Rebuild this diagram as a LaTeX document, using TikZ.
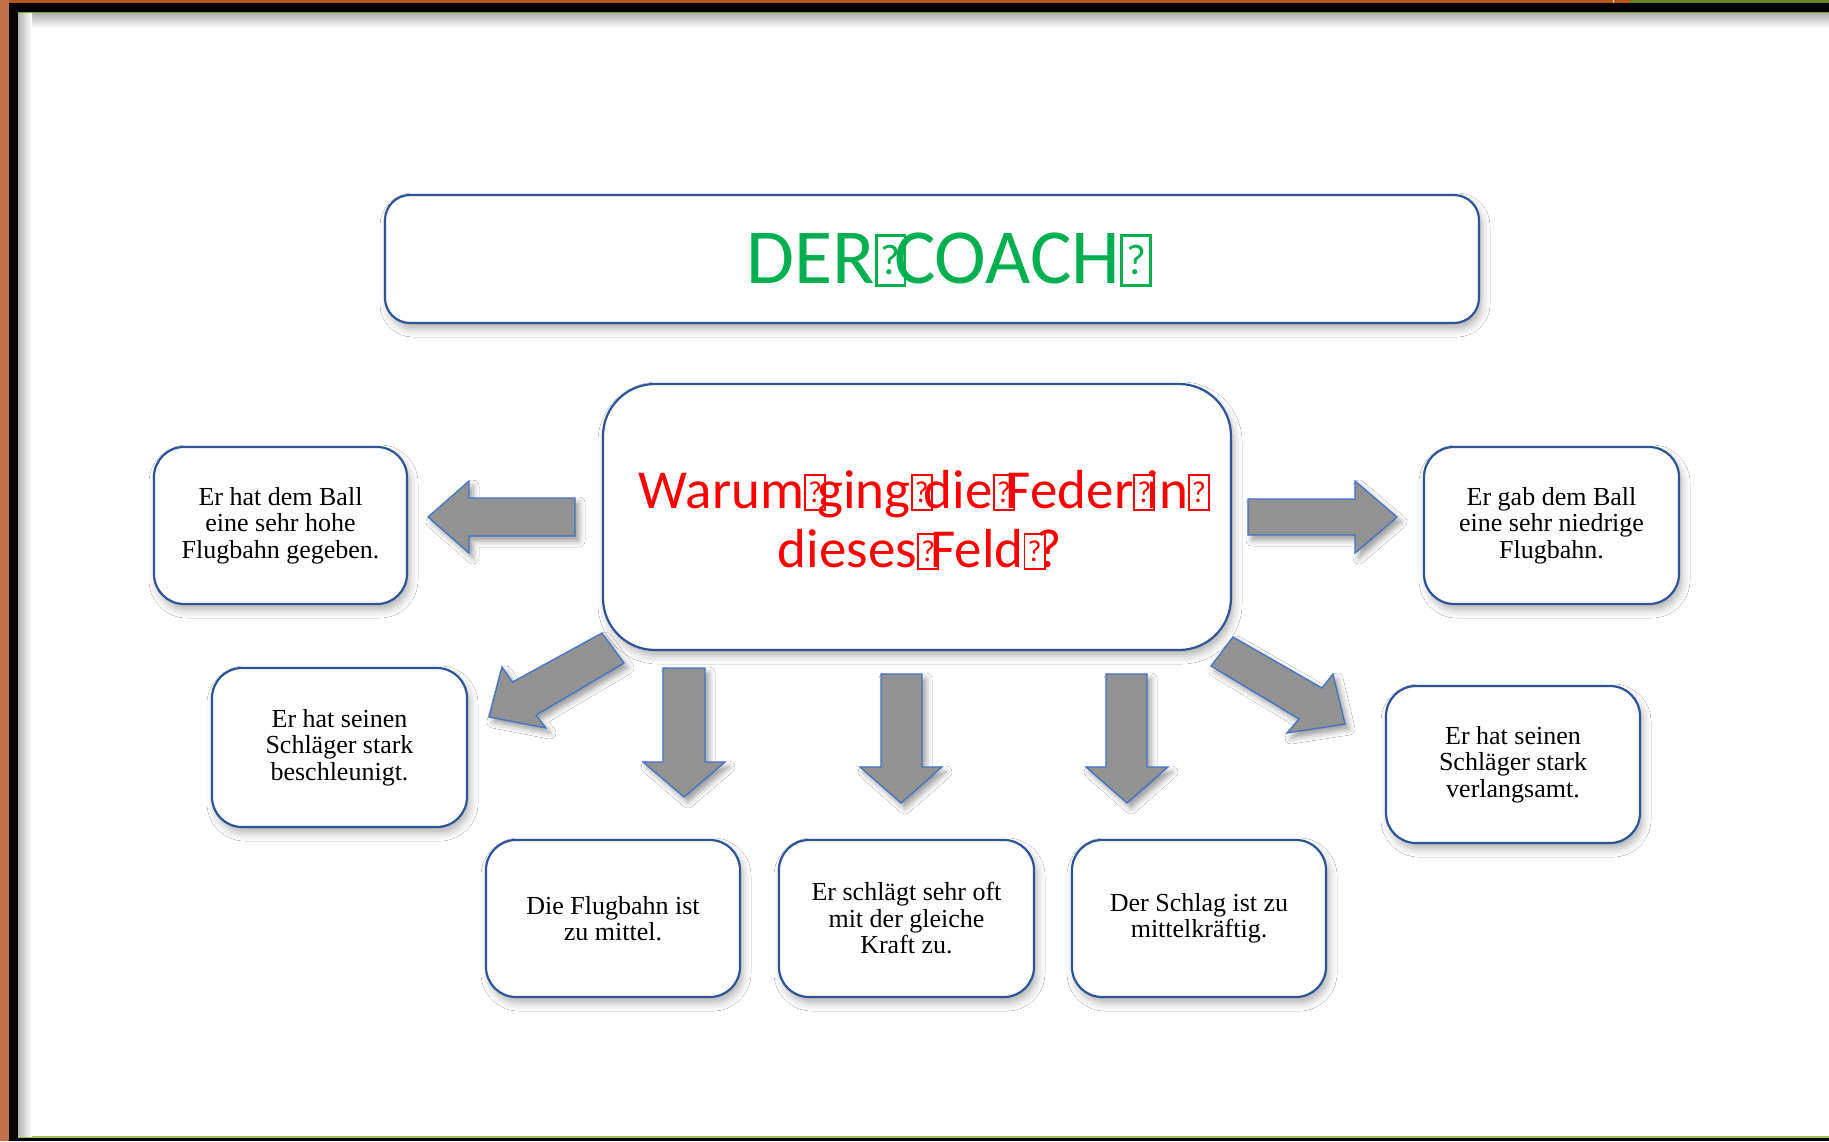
\documentclass[tikz,border=0pt]{standalone}
\usepackage{fontspec}
\usepackage{graphicx}
\setmainfont{Liberation Serif}
\newfontfamily\calfont{Carlito}
\usetikzlibrary{shadows.blur}
\definecolor{frameorange}{HTML}{B5561B}
\definecolor{frameorangelight}{HTML}{C2704A}
\definecolor{frameolive}{HTML}{6A7F24}
\definecolor{framegreen}{HTML}{76A22B}
\definecolor{framegreenlight}{HTML}{9CC14F}
\definecolor{boxblue}{HTML}{2F5496}
\definecolor{arrowblue}{HTML}{4472C4}
\definecolor{arrowgray}{HTML}{929292}
\definecolor{titlegreen}{HTML}{00B050}
\definecolor{qred}{HTML}{FF0000}
\newcommand{\tofu}{\makebox[0.24em][l]{\raisebox{-0.01em}{\setlength{\fboxsep}{0pt}\setlength{\fboxrule}{0.035em}\fbox{\parbox[b][0.6em][c]{0.33em}{\centering\scalebox{0.55}{?}}}}}}
\tikzset{
  infobox/.style={draw=boxblue, line width=2.2pt, fill=white, rounded corners=30pt,
    align=center, inner sep=0pt, font=\fontsize{26}{26.5}\selectfont,
    blur shadow={shadow xshift=3pt, shadow yshift=-6pt, shadow opacity=30, shadow blur radius=8pt}},
  bigbox/.style={infobox},
  blockarrow/.style={draw=arrowblue, line width=1.3pt, fill=arrowgray, line join=miter,
    blur shadow={shadow xshift=4pt, shadow yshift=-5pt, shadow opacity=40, shadow blur radius=6pt}},
}
\begin{document}
\begin{tikzpicture}[x=1pt,y=-1pt]
\useasboundingbox (0,0) rectangle (1829,1141);
% frame
\fill[frameorange] (0,0) rectangle (1829,1141);
\fill[frameorangelight] (0,0) rectangle (9,1141);
\fill[frameolive] (1630,0) rectangle (1829,3);
\draw[white!80!frameorange, line width=1pt] (1613,0) -- (1613,3);
\fill[black] (9,3) rectangle (1829,1141);
\fill[white] (18,13) rectangle (1829,1137);
\fill[framegreen] (18,12) rectangle (1829,13.5);
\fill[framegreenlight] (18,1136) rectangle (1829,1137.5);
\shade[top color=gray!60, bottom color=white] (18,13.5) rectangle (1829,28);
\shade[left color=gray!60, right color=white] (18,13.5) rectangle (32,1136);

% title
\node[bigbox, rounded corners=25pt, minimum width=1094pt, minimum height=128pt] (titlebox) at (932,259) {};
\node[font=\calfont\fontsize{78}{82}\selectfont, text=titlegreen, anchor=base, inner sep=0pt] (titletext) at (943,283) {DER\tofu COACH\tofu};

% question
\node[bigbox, rounded corners=52pt, minimum width=628pt, minimum height=266pt] (qbox) at (917,517) {};
\node[font=\calfont\fontsize{55}{59}\selectfont, text=qred, align=center, inner sep=0pt] (qtext) at (920,520) {Warum\tofu ging\tofu die\tofu Feder\tofu in\tofu\\dieses\tofu Feld\tofu?};

% answer boxes
\node[infobox, minimum width=253pt, minimum height=157pt] (b1) at (280.5,525.5) {Er hat dem Ball\\eine sehr hohe\\Flugbahn gegeben.};
\node[infobox, minimum width=255pt, minimum height=157pt] (b2) at (1551.5,525.5) {Er gab dem Ball\\eine sehr niedrige\\Flugbahn.};
\node[infobox, minimum width=255pt, minimum height=159pt] (b3) at (339.5,747.5) {Er hat seinen\\Schläger stark\\beschleunigt.};
\node[infobox, minimum width=254pt, minimum height=157pt] (b4) at (1513,764.5) {Er hat seinen\\Schläger stark\\verlangsamt.};
\node[infobox, minimum width=254pt, minimum height=157pt] (b5) at (613,918.5) {Die Flugbahn ist\\zu mittel.};
\node[infobox, minimum width=255pt, minimum height=157pt] (b6) at (906.5,918.5) {Er schlägt sehr oft\\mit der gleiche\\Kraft zu.};
\node[infobox, minimum width=254pt, minimum height=157pt] (b7) at (1199,918.5) {Der Schlag ist zu\\mittelkräftig.};

% block arrows
\path[blockarrow] (428,517) -- (469,481) -- (469,498) -- (575,498) -- (575,536) -- (469,536) -- (469,553) -- cycle;
\path[blockarrow] (1248,499) -- (1355,499) -- (1355,481) -- (1397,517) -- (1355,553) -- (1355,535) -- (1248,535) -- cycle;
\path[blockarrow] (602,633) -- (512.5,682) -- (502,667) -- (489,717) -- (546,728) -- (536,715) -- (624,663) -- cycle;
\path[blockarrow] (663,668) -- (705,668) -- (705,762) -- (725,762) -- (684,797) -- (643,762) -- (663,762) -- cycle;
\path[blockarrow] (881,674) -- (922,674) -- (922,767) -- (942,767) -- (901,803) -- (860,767) -- (881,767) -- cycle;
\path[blockarrow] (1106,674) -- (1147,674) -- (1147,767) -- (1168,767) -- (1127,803) -- (1086,767) -- (1106,767) -- cycle;
\path[blockarrow] (1233,637) -- (1322,688) -- (1333,674) -- (1345,724) -- (1287,733) -- (1299,719) -- (1211,666) -- cycle;
\end{tikzpicture}
\end{document}
